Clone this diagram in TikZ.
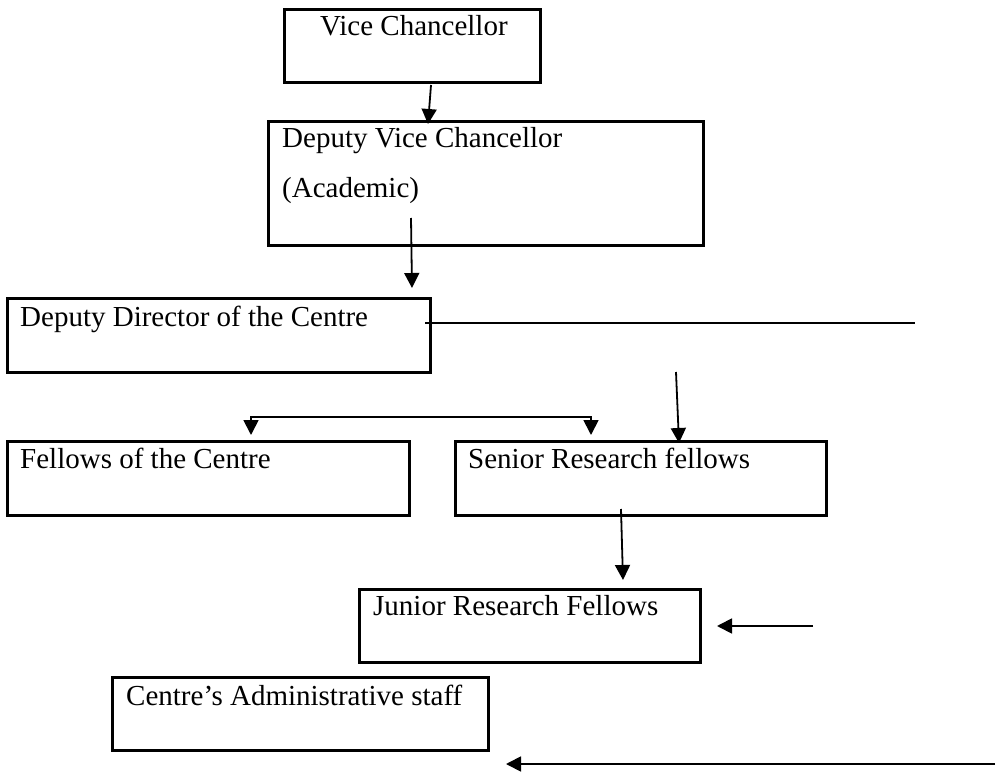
\documentclass[tikz,border=0pt]{standalone}
\usepackage{fontspec}
\setmainfont{Liberation Serif}
\usetikzlibrary{arrows.meta}
\begin{document}
\begin{tikzpicture}[x=1pt,y=-1pt,
  box/.style={draw=black,line width=2.6pt,rectangle,inner sep=0pt,anchor=north west},
  lbl/.style={anchor=base west,inner sep=0pt,font=\fontsize{29}{35}\selectfont},
  conn/.style={draw=black,line width=1.8pt},
  arr/.style={conn,-{Triangle[length=15pt,width=15pt]}}]
\useasboundingbox (0,0) rectangle (999,773);
\fill[white] (0,0) rectangle (999,773);
% boxes
\node[box,minimum width=256pt,minimum height=73pt] (vc) at (283,8) {};
\node[box,minimum width=435pt,minimum height=124pt] (dvc) at (267,120) {};
\node[box,minimum width=423pt,minimum height=74pt] (dd) at (6,297) {};
\node[box,minimum width=402pt,minimum height=74pt] (fc) at (6,440) {};
\node[box,minimum width=371pt,minimum height=74pt] (srf) at (454,440) {};
\node[box,minimum width=341pt,minimum height=73pt] (jrf) at (358,588) {};
\node[box,minimum width=376pt,minimum height=73pt] (adm) at (111,676) {};
% labels
\node[lbl] (vct) at (320,36) {Vice Chancellor};
\node[lbl] (dvct1) at (282,148) {Deputy Vice Chancellor};
\node[lbl] (dvct2) at (282,197) {(Academic)};
\node[lbl] (ddt) at (20,326) {Deputy Director of the Centre};
\node[lbl] (fct) at (20,468) {Fellows of the Centre};
\node[lbl] (srft) at (468,468) {Senior Research fellows};
\node[lbl] (jrft) at (373,615) {Junior Research Fellows};
\node[lbl] (admt) at (126,705) {Centre’s Administrative staff};
% connector end points
\coordinate (a1s) at (431,85);  \coordinate (a1e) at (428,124);
\coordinate (a2s) at (411,218); \coordinate (a2e) at (412,288);
\coordinate (l3s) at (425,323); \coordinate (l3e) at (915,323);
\coordinate (a4s) at (676,372); \coordinate (a4e) at (679,443);
\coordinate (b1) at (251,435); \coordinate (b2) at (251,417);
\coordinate (b3) at (591,417); \coordinate (b4) at (591,435);
\coordinate (a6s) at (621,509); \coordinate (a6e) at (623,580);
\coordinate (a7s) at (813,626); \coordinate (a7e) at (717,626);
\coordinate (a8s) at (995,764); \coordinate (a8e) at (506,764);
% connectors
\draw[arr] (a1s) -- (a1e);
\draw[arr] (a2s) -- (a2e);
\draw[conn] (l3s) -- (l3e);
\draw[arr] (a4s) -- (a4e);
\draw[conn,{Triangle[length=15pt,width=15pt]}-{Triangle[length=15pt,width=15pt]}] (b1) -- (b2) -- (b3) -- (b4);
\draw[arr] (a6s) -- (a6e);
\draw[arr] (a7s) -- (a7e);
\draw[arr] (a8s) -- (a8e);
\end{tikzpicture}
\end{document}
